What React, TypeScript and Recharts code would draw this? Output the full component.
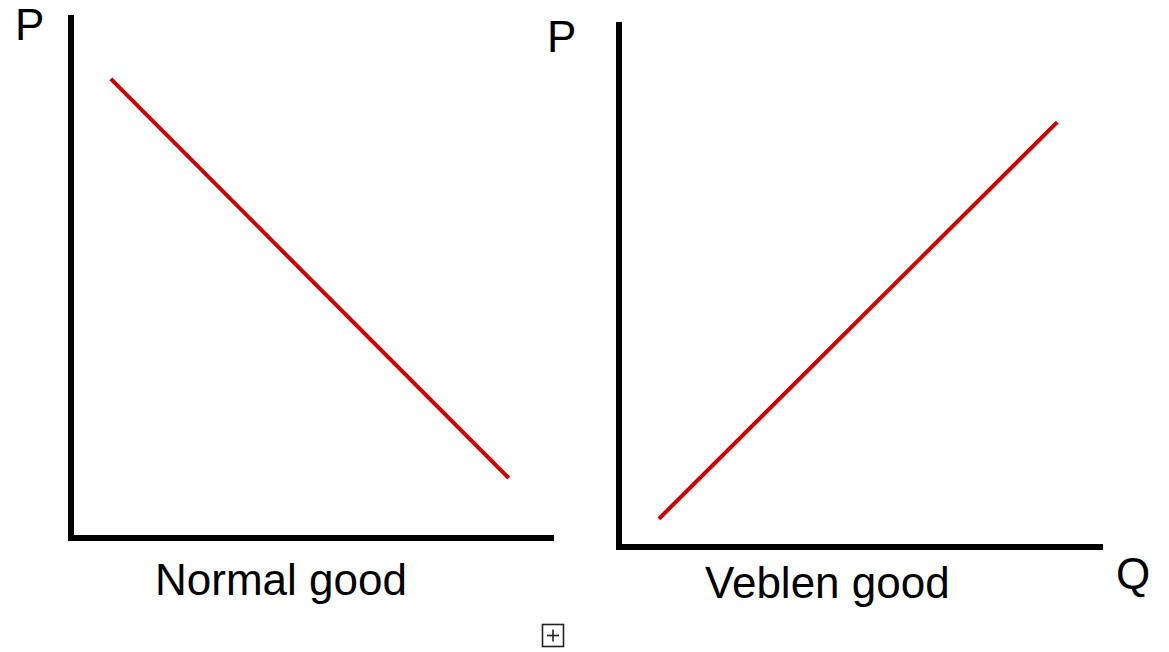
import React from "react";
import { LineChart, Line, XAxis, YAxis } from "recharts";

// Normal good: demand slopes downward
const normalGood = [
  { q: 8.3, p: 88.3 },
  { q: 91.2, p: 11.5 },
];

// Veblen good: demand slopes upward
const veblenGood = [
  { q: 8.3, p: 5.4 },
  { q: 91.1, p: 81.4 },
];

const titles = ["Normal good", "Veblen good"];
const axisLabels = { price: "P", quantity: "Q" };

const FONT = "'Liberation Sans', Arial, Helvetica, sans-serif";
const RED = "#cc0000";
const axisLine = { stroke: "#000", strokeWidth: 6, strokeLinecap: "square" as const };

type Pt = { q: number; p: number };

function Panel({ data, left, top, width, height, margin }: {
  data: Pt[]; left: number; top: number; width: number; height: number;
  margin: { top: number; left: number; right: number; bottom: number };
}) {
  return (
    <div style={{ position: "absolute", left, top }}>
      <LineChart width={width} height={height} data={data} margin={margin}>
        <XAxis
          dataKey="q"
          type="number"
          domain={[0, 100]}
          height={1}
          tick={false}
          tickLine={false}
          axisLine={axisLine}
        />
        <YAxis
          dataKey="p"
          type="number"
          domain={[0, 100]}
          width={1}
          tick={false}
          tickLine={false}
          axisLine={axisLine}
        />
        <Line
          dataKey="p"
          stroke={RED}
          strokeWidth={4}
          dot={false}
          activeDot={false}
          isAnimationActive={false}
        />
      </LineChart>
    </div>
  );
}

export default function App() {
  return (
    <div
      style={{
        position: "absolute",
        left: 0,
        top: 0,
        width: 1169,
        height: 652,
        background: "#fff",
        overflow: "hidden",
      }}
    >
      <Panel
        data={normalGood}
        left={0}
        top={0}
        width={560}
        height={560}
        margin={{ top: 18, left: 70, right: 9, bottom: 21 }}
      />
      <Panel
        data={veblenGood}
        left={560}
        top={0}
        width={560}
        height={570}
        margin={{ top: 25, left: 58, right: 20, bottom: 22 }}
      />
      <svg
        width={1169}
        height={652}
        style={{ position: "absolute", left: 0, top: 0, pointerEvents: "none" }}
      >
        <g fontFamily={FONT} fontSize={44} fill="#000">
          <text x={15} y={40}>{axisLabels.price}</text>
          <text x={547} y={52}>{axisLabels.price}</text>
          <text x={1116} y={589}>{axisLabels.quantity}</text>
          <text x={155} y={595}>{titles[0]}</text>
          <text x={705} y={598}>{titles[1]}</text>
        </g>
        <g stroke="#222" strokeWidth={1.6} fill="none">
          <rect x={542.5} y={624.5} width={21} height={22} />
          <line x1={547} y1={635.5} x2={559} y2={635.5} />
          <line x1={553} y1={629.5} x2={553} y2={641.5} />
        </g>
      </svg>
    </div>
  );
}
